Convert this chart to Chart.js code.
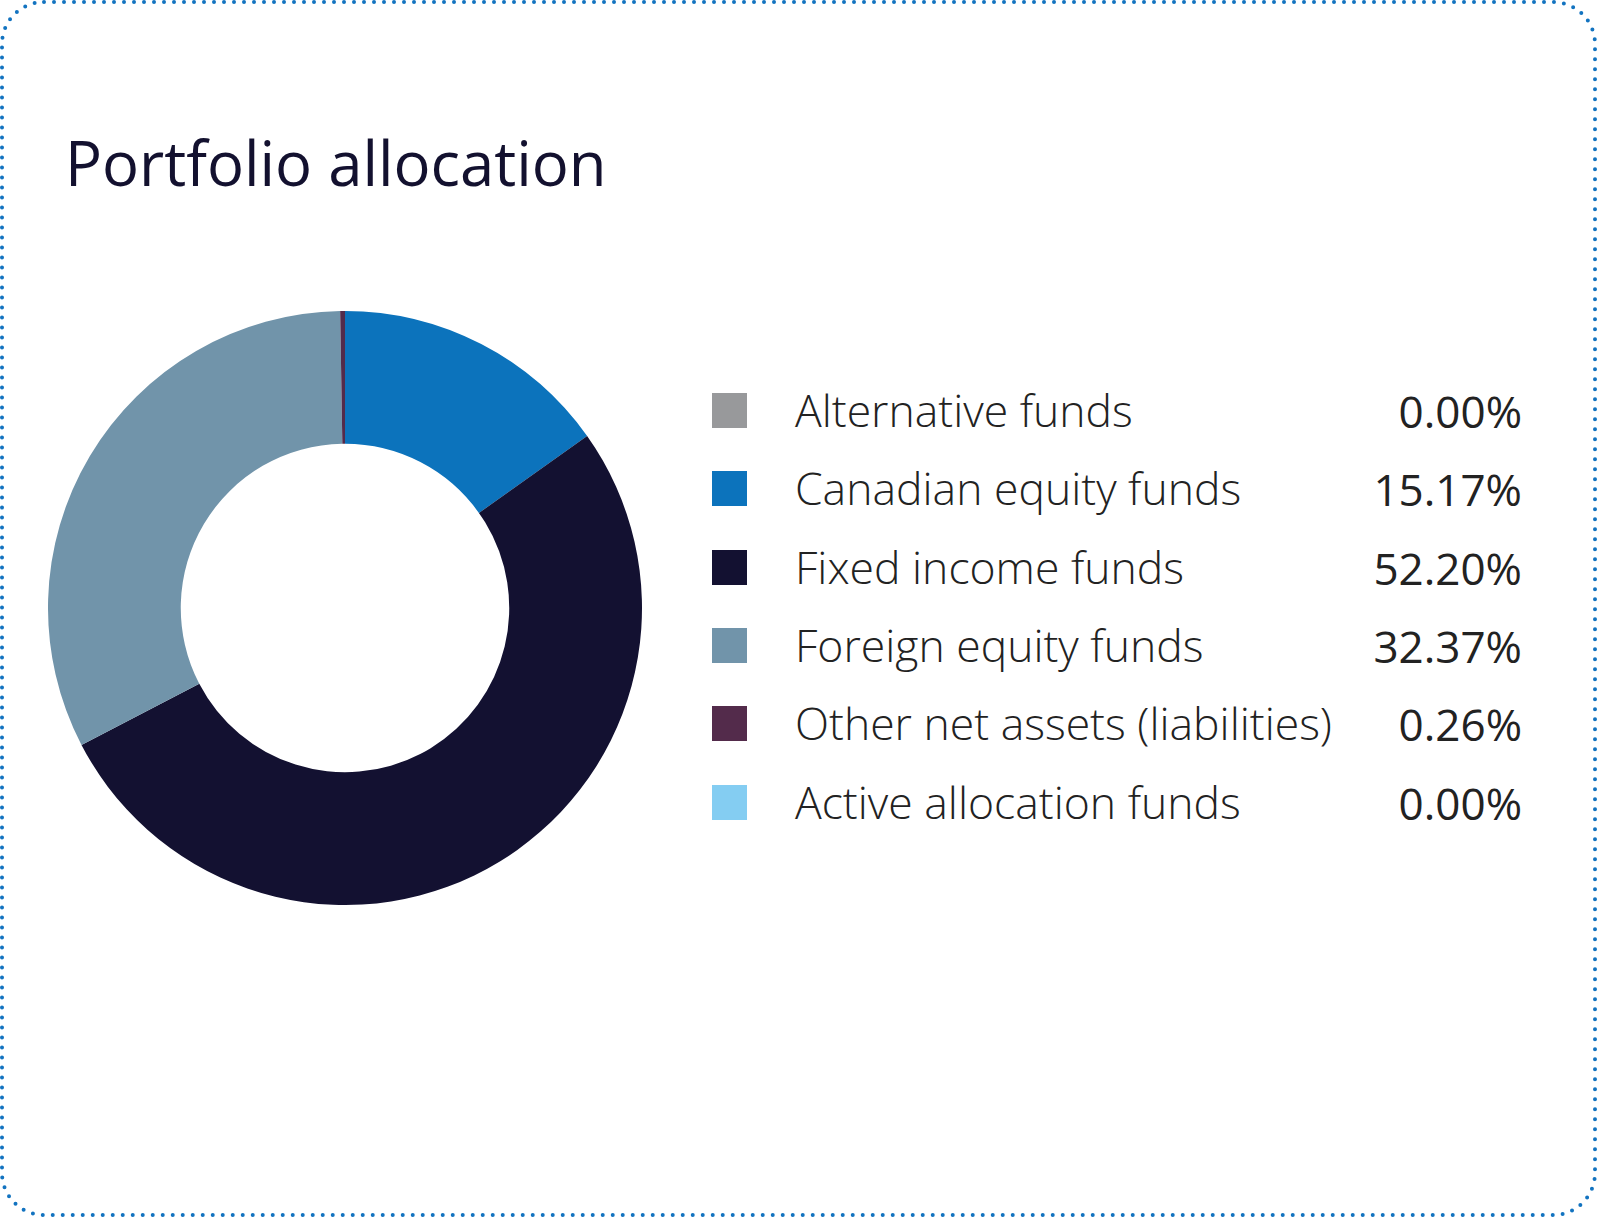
<!DOCTYPE html>
<html>
<head>
<meta charset="utf-8">
<script src="https://cdn.jsdelivr.net/npm/chart.js@4.4.1/dist/chart.umd.min.js"></script>
<style>
  html, body { margin: 0; padding: 0; background: #ffffff; }
  body { width: 1597px; height: 1217px; position: relative; overflow: hidden; font-family: "Open Sans", sans-serif; }
  #frame { position: absolute; left: 0; top: 0; }
  #title { position: absolute; left: 65px; top: 0; font-size: 61.6px; font-weight: 400; color: #13112f; line-height: 62px; white-space: nowrap; }
  #chartWrap { position: absolute; left: 48px; top: 311px; width: 594px; height: 594px; }
  .sw { position: absolute; left: 712px; width: 35px; height: 35px; }
  .lab { position: absolute; left: 795px; font-size: 44.5px; line-height: 44.5px; font-weight: 300; color: #222222; white-space: nowrap; }
  .val { position: absolute; right: 75px; font-size: 44px; line-height: 44px; font-weight: 400; color: #222222; white-space: nowrap; text-align: right; }
</style>
</head>
<body>
<svg id="frame" width="1597" height="1217">
  <rect x="2" y="2" width="1593" height="1213" rx="42" ry="42" fill="none" stroke="#1273c0" stroke-width="4" stroke-dasharray="0 10" stroke-linecap="round"/>
</svg>
<div id="title">Portfolio allocation</div>
<div id="chartWrap"><canvas id="c" width="594" height="594"></canvas></div>
<div id="legend"></div>
<script>
const categories = ["Alternative funds", "Canadian equity funds", "Fixed income funds", "Foreign equity funds", "Other net assets (liabilities)", "Active allocation funds"];
const values = [0.00, 15.17, 52.20, 32.37, 0.26, 0.00];
const colors = ["#98999b", "#0c73bc", "#131131", "#7194aa", "#532b4b", "#84cdf2"];

const title = document.getElementById('title');
// Open Sans ascent 1.069, descent 0.293 -> baseline offset in line box
function baselineOffset(fs, lh) { return (lh - 1.362 * fs) / 2 + 1.069 * fs; }
title.style.top = (186 - baselineOffset(61.6, 62)) + 'px';

const legend = document.getElementById('legend');
categories.forEach((cat, i) => {
  const rowTop = Math.round(393 + i * 78.3);
  const sw = document.createElement('div');
  sw.className = 'sw';
  sw.style.top = rowTop + 'px';
  sw.style.background = colors[i];
  legend.appendChild(sw);
  const lab = document.createElement('div');
  lab.className = 'lab';
  lab.textContent = cat;
  lab.style.top = (rowTop + 35 - baselineOffset(44.5, 44.5)) + 'px';
  legend.appendChild(lab);
  const val = document.createElement('div');
  val.className = 'val';
  val.textContent = values[i].toFixed(2) + '%';
  val.style.top = (rowTop + 35 - baselineOffset(44, 44)) + 'px';
  legend.appendChild(val);
});

new Chart(document.getElementById('c'), {
  type: 'doughnut',
  data: {
    labels: categories,
    datasets: [{
      data: values,
      backgroundColor: colors,
      borderWidth: 0,
      hoverOffset: 0,
      offset: 0
    }]
  },
  options: {
    responsive: false,
    animation: false,
    cutout: '55.3%',
    layout: { padding: 0 },
    plugins: { legend: { display: false }, tooltip: { enabled: false } }
  }
});
</script>
</body>
</html>
